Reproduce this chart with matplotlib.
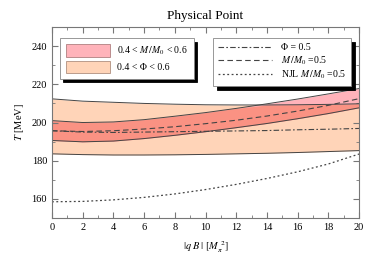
"""
Physical Point: pseudo-critical temperature vs magnetic field
"""
import numpy as np
import matplotlib.pyplot as plt
from matplotlib.patches import Patch
from matplotlib.lines import Line2D

plt.rcParams['font.family'] = ['Liberation Serif', 'DejaVu Serif']
plt.rcParams['mathtext.fontset'] = 'stix'

# |qB| in units of M_pi^2
qB = [0, 2, 4, 6, 8, 10, 12, 14, 16, 18, 20]

# 0.4 < M/M0 < 0.6 band
m_upper = [201.0, 200.0, 200.3, 201.5, 203.3, 205.2, 207.4, 209.8, 212.3, 215.0, 217.8]
m_lower = [190.6, 189.9, 190.3, 191.6, 193.3, 195.2, 197.3, 199.5, 202.0, 204.7, 207.7]

# 0.4 < Phi < 0.6 band
phi_upper = [212.4, 211.2, 210.6, 210.0, 209.6, 209.3, 209.2, 209.2, 209.3, 209.5, 209.8]
phi_lower = [183.6, 183.2, 183.0, 183.0, 183.1, 183.3, 183.6, 183.9, 184.3, 184.8, 185.3]

# central lines
phi_half = [195.7, 195.0, 194.8, 195.0, 195.2, 195.4, 195.6, 195.8, 196.2, 196.5, 196.9]
m_half = [195.7, 195.3, 195.7, 196.6, 197.8, 199.4, 201.2, 203.4, 206.0, 209.0, 212.5]
njl_half = [158.5, 158.7, 159.5, 160.8, 162.6, 164.9, 167.6, 170.7, 174.2, 178.3, 183.5]

fig = plt.figure(figsize=(3.82, 2.6), dpi=100)
ax = fig.add_axes([0.136, 0.1615, 0.804, 0.7345])

phi_col = '#ffd4b8'
m_col = '#ffb3ba'
both_col = '#fa9283'

ax.fill_between(qB, phi_lower, phi_upper, color=phi_col, lw=0)
ax.fill_between(qB, m_lower, m_upper, color=m_col, lw=0)
# overlap of the two bands
ax.fill_between(qB, np.maximum(m_lower, phi_lower), np.minimum(m_upper, phi_upper),
                color=both_col, lw=0)
for y in (phi_upper, phi_lower, m_upper, m_lower):
    ax.plot(qB, y, color='#444444', lw=0.7)

dashdot = (0, (5, 2, 1.5, 2))
ax.plot(qB, phi_half, color='#444444', lw=0.8, ls=dashdot)
ax.plot(qB, m_half, color='#444444', lw=0.8, ls=(0, (5, 3)))
ax.plot(qB, njl_half, color='#444444', lw=0.9, ls=(0, (1.5, 2)))

ax.set_xlim(0, 20)
ax.set_ylim(150, 250)
ax.set_xticks(np.arange(0, 21, 2))
ax.set_xticks(np.arange(0, 21, 1), minor=True)
ax.set_yticks([160, 180, 200, 220, 240])
ax.set_yticks(np.arange(150, 251, 10), minor=True)
ax.tick_params(which='both', direction='in', top=True, right=True,
               labelsize=7.5, color='#777777')
ax.tick_params(which='major', length=4)
ax.tick_params(which='minor', length=2)
for s in ax.spines.values():
    s.set_color('#777777')
    s.set_linewidth(0.8)

ax.set_title('Physical Point', fontsize=9.5, pad=6)
ax.set_ylabel(r'$T$ [MeV]', fontsize=7.5, labelpad=4)
ax.set_xlabel(r'$|q\;B\;|\ [M_\pi^{\ 2}]$', fontsize=7.5, labelpad=5)

shadow = {'color': 'black', 'alpha': 1, 'ox': 2.5, 'oy': -2.5}

h1 = [Patch(facecolor=m_col, edgecolor='#b08080', lw=0.6),
      Patch(facecolor=phi_col, edgecolor='#b09080', lw=0.6)]
leg1 = ax.legend(h1, [r'0.4 < $M\,/M_0$ < 0.6', '0.4 < Φ < 0.6'],
                 loc='upper left', bbox_to_anchor=(0.026, 0.94), fontsize=7,
                 handlelength=4.5, handleheight=1.6, handletextpad=0.8,
                 fancybox=False, shadow=shadow, framealpha=1,
                 edgecolor='#888888', borderpad=0.6, labelspacing=0.35,
                 borderaxespad=0)
leg1.get_frame().set_linewidth(0.6)
ax.add_artist(leg1)

h2 = [Line2D([], [], color='#444444', lw=0.8, ls=dashdot),
      Line2D([], [], color='#444444', lw=0.8, ls=(0, (5, 3))),
      Line2D([], [], color='#444444', lw=0.9, ls=(0, (1.5, 2)))]
leg2 = ax.legend(h2, ['Φ = 0.5', r'$M\,/M_0$ =0.5', r'NJL $M\,/M_0$ =0.5'],
                 loc='upper left', bbox_to_anchor=(0.525, 0.94), fontsize=7,
                 handlelength=5.5, handletextpad=1.0,
                 fancybox=False, shadow=shadow, framealpha=1,
                 edgecolor='#888888', borderpad=0.5, labelspacing=0.2,
                 borderaxespad=0)
leg2.get_frame().set_linewidth(0.6)
for t in leg2.get_texts():
    t.set_ha('left')
leg2._legend_box.align = 'left'

fig.savefig('out.png', dpi=100)
